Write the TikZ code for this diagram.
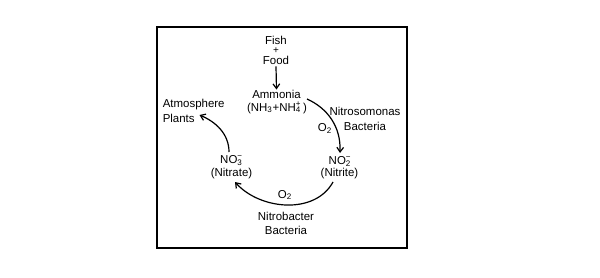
\documentclass[tikz,border=0pt]{standalone}
\usepackage{fontspec}
\setmainfont{Liberation Sans}
\usetikzlibrary{arrows.meta,calc}
\newcommand\mysubsup[2]{\rlap{\textsubscript{#1}}\textsuperscript{#2}}
\begin{document}
\begin{tikzpicture}[x=0.75pt,y=-0.75pt,
  lbl/.style={inner sep=0pt,font=\fontsize{8.6}{10}\selectfont},
  conn/.style={line width=0.9pt,-{Straight Barb[length=3.5pt,width=5pt]}}]
\useasboundingbox (0,0) rectangle (600,278);
\draw[line width=0.9pt] (157,27) rectangle (407,248);
\node[lbl] (fish) at (276,40.5) {Fish};
\node[lbl,font=\fontsize{7.5}{8}\selectfont] (plus) at (276,50.5) {+};
\node[lbl] (food) at (276,60) {Food};
\node[lbl] (ammonia) at (276.5,94) {Ammonia};
\node[lbl] (nh) at (277,107.5) {(NH\textsubscript{3}+NH\mysubsup{4}{+}\,)};
\node[lbl,anchor=west] (atmo) at (162.5,105) {Atmosphere};
\node[lbl,anchor=west] (plants) at (162.5,118.5) {Plants};
\node[lbl] (no3) at (231.5,160.5) {NO\mysubsup{3}{−}};
\node[lbl] (nitrate) at (231.5,174) {(Nitrate)};
\node[lbl] (no2) at (340,161.5) {NO\mysubsup{2}{−}};
\node[lbl] (nitrite) at (339.5,174) {(Nitrite)};
\node[lbl] (o2a) at (325,128.5) {O\textsubscript{2}};
\node[lbl] (nitroso) at (365,111.5) {Nitrosomonas};
\node[lbl] (bact1) at (365,126) {Bacteria};
\node[lbl] (o2b) at (285,195) {O\textsubscript{2}};
\node[lbl] (nitrob) at (286,216.5) {Nitrobacter};
\node[lbl] (bact2) at (286,230.5) {Bacteria};
\coordinate (s1) at (307,99);
\coordinate (e1) at (340,153);
\coordinate (s2) at (333,182);
\coordinate (e2) at (235,182);
\coordinate (s3) at (229,152);
\coordinate (e3) at (199.5,115);
\draw[conn] (food.south) ++(0,2) -- (ammonia.north);
\draw[conn] (s1) .. controls (327,108) and (341,126) .. (e1);
\draw[conn] (s2) .. controls (315,215) and (260,210) .. (e2);
\draw[conn] (s3) .. controls (229,134) and (216,122) .. (e3);
\end{tikzpicture}
\end{document}
